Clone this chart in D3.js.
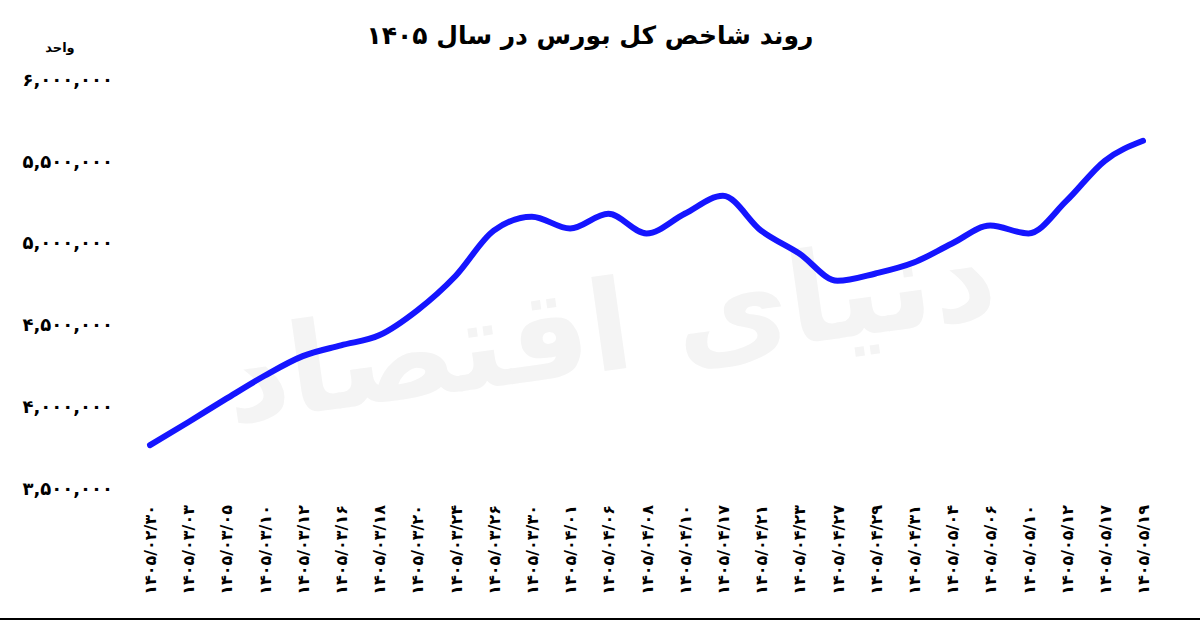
<!DOCTYPE html>
<html><head><meta charset="utf-8">
<script src="https://cdn.jsdelivr.net/npm/d3@7"></script>
<style>body{margin:0;background:#fff}text{font-family:"DejaVu Sans",sans-serif}</style>
</head><body><div id="chart"></div>
<script>
const dates = ["1405/02/30","1405/03/03","1405/03/05","1405/03/10","1405/03/12","1405/03/16","1405/03/18",
  "1405/03/20","1405/03/24","1405/03/26","1405/03/30","1405/04/01","1405/04/06","1405/04/08","1405/04/10",
  "1405/04/17","1405/04/21","1405/04/23","1405/04/27","1405/04/29","1405/04/31","1405/05/04","1405/05/06",
  "1405/05/10","1405/05/12","1405/05/17","1405/05/19"];
const values = [3756000,3896000,4040000,4180000,4300000,4366000,4427000,4580000,4790000,5067000,5152000,
  5080000,5170000,5050000,5170000,5280000,5067000,4927000,4760000,4805000,4872000,4988000,5098000,
  5050000,5250000,5494000,5616000];
const yTicks = [3500000,4000000,4500000,5000000,5500000,6000000];

const fa = s => String(s).replace(/\d/g, d => "۰۱۲۳۴۵۶۷۸۹"[d]);
const W = 1200, H = 622;
const svg = d3.select("#chart").append("svg").attr("width", W).attr("height", H);

// watermark
svg.append("text").attr("x", 610).attr("y", 370).attr("text-anchor", "middle")
  .attr("transform", "rotate(-8,610,330)")
  .style("font-size", "125px").style("font-weight", "bold").style("fill", "#f4f4f4")
  .text("دنیای اقتصاد");

const x = d3.scalePoint().domain(dates).range([150, 1143]);
const y = d3.scaleLinear().domain([3500000, 6000000]).range([487, 78]);

svg.append("text").attr("x", 590).attr("y", 44).attr("text-anchor", "middle")
  .style("font-size", "25px").style("font-weight", "bold").text("روند شاخص کل بورس در سال ۱۴۰۵");
svg.append("text").attr("x", 60).attr("y", 52).attr("text-anchor", "middle")
  .style("font-size", "13px").style("font-weight", "bold").text("واحد");

const yAxis = svg.append("g").attr("transform", "translate(116,0)")
  .call(d3.axisLeft(y).tickValues(yTicks).tickSize(0).tickFormat(d => fa(d3.format(",")(d))));
yAxis.select(".domain").remove();
yAxis.selectAll("text").style("font-size", "18px").style("font-weight", "bold").attr("dy", "0.4em");

const xAxis = svg.append("g").attr("transform", "translate(0,500)")
  .call(d3.axisBottom(x).tickSize(0).tickFormat(d => fa(d)));
xAxis.select(".domain").remove();
xAxis.selectAll("text").style("font-size", "16px").style("font-weight", "bold")
  .attr("text-anchor", "end").attr("x", -5).attr("y", 0).attr("dy", "0.35em")
  .attr("transform", "rotate(-90)");

svg.append("line").attr("x1", 0).attr("x2", W).attr("y1", 619).attr("y2", 619)
  .attr("stroke", "#000").attr("stroke-width", 2);

svg.append("path").datum(values)
  .attr("d", d3.line().x((d, i) => x(dates[i])).y(d => y(d)).curve(d3.curveMonotoneX))
  .attr("fill", "none").attr("stroke", "#1515ff").attr("stroke-width", 6).attr("stroke-linecap", "round");
</script></body></html>
